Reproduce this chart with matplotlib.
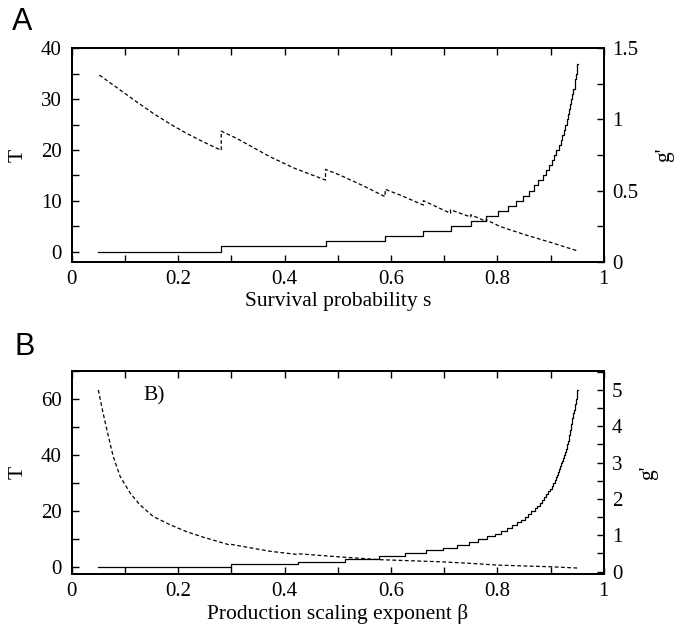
import matplotlib
matplotlib.use("Agg")
import matplotlib.pyplot as plt
from matplotlib.ticker import MultipleLocator, FuncFormatter

plt.rcParams["font.family"] = "Liberation Serif"

# --- panel A: survival probability s ---
# s where T steps up by one (T = 1, 2, ... 37)
A_steps = [0.281, 0.477, 0.589, 0.661, 0.712, 0.750, 0.779, 0.801, 0.820, 0.835,
           0.848, 0.860, 0.869, 0.877, 0.885, 0.891, 0.897, 0.902, 0.907, 0.911,
           0.915, 0.919, 0.922, 0.925, 0.928, 0.931, 0.933, 0.935, 0.937, 0.939,
           0.941, 0.943, 0.945, 0.946, 0.948, 0.949, 0.950]
A_T = [0, 1, 2, 3, 4, 5, 6, 7, 8, 9, 10, 11, 12, 13, 14, 15, 16, 17, 18, 19, 20,
       21, 22, 23, 24, 25, 26, 27, 28, 29, 30, 31, 32, 33, 34, 35, 36, 37]
A_s_start, A_s_end = 0.05, 0.951

A_g_s = [0.052, 0.091, 0.122, 0.153, 0.185, 0.216, 0.247, 0.281, 0.281, 0.31,
         0.3725, 0.42, 0.477, 0.477, 0.504, 0.55, 0.589, 0.589, 0.617, 0.661,
         0.661, 0.712, 0.712, 0.750, 0.750, 0.779, 0.779, 0.805, 0.85, 0.90, 0.95]
A_g = [1.312, 1.207, 1.124, 1.043, 0.968, 0.902, 0.843, 0.783, 0.918, 0.867,
       0.738, 0.655, 0.574, 0.649, 0.609, 0.53, 0.457, 0.509, 0.469, 0.398,
       0.429, 0.34, 0.365, 0.314, 0.33, 0.283, 0.295, 0.248, 0.192, 0.136, 0.077]

# --- panel B: production scaling exponent beta ---
B_steps = [0.300, 0.426, 0.513, 0.578, 0.627, 0.666, 0.698, 0.724, 0.746, 0.764,
           0.781, 0.795, 0.807, 0.818, 0.828, 0.837, 0.845, 0.852, 0.858, 0.864,
           0.870, 0.875, 0.880, 0.884, 0.888, 0.892, 0.895, 0.899, 0.902, 0.905,
           0.908, 0.910, 0.912, 0.914, 0.916, 0.918, 0.920, 0.922, 0.924, 0.926,
           0.927, 0.929, 0.930, 0.931, 0.932, 0.934, 0.935, 0.936, 0.937, 0.938,
           0.939, 0.940, 0.941, 0.942, 0.943, 0.944, 0.945, 0.946, 0.947, 0.948,
           0.949, 0.950, 0.9505]
B_T = [0, 1, 2, 3, 4, 5, 6, 7, 8, 9, 10, 11, 12, 13, 14, 15, 16, 17, 18, 19, 20,
       21, 22, 23, 24, 25, 26, 27, 28, 29, 30, 31, 32, 33, 34, 35, 36, 37, 38, 39,
       40, 41, 42, 43, 44, 45, 46, 47, 48, 49, 50, 51, 52, 53, 54, 55, 56, 57, 58,
       59, 60, 61, 62, 63]
B_b_start, B_b_end = 0.05, 0.951

B_g_b = [0.05, 0.059, 0.069, 0.078, 0.091, 0.11, 0.128, 0.153, 0.185, 0.216,
         0.247, 0.297, 0.300, 0.373, 0.426, 0.428, 0.50, 0.579, 0.692, 0.748,
         0.80, 0.90, 0.95]
B_g = [5.0, 4.36, 3.72, 3.17, 2.62, 2.16, 1.84, 1.52, 1.29, 1.10,
       0.95, 0.735, 0.75, 0.56, 0.47, 0.49, 0.41, 0.33, 0.272, 0.23,
       0.18, 0.135, 0.10]

LW = 0.9
TICK_FS = 15


def style_panel(ax, ax2, ylim, ymaj, ymin, g_lim, g_maj, g_min, xlabel):
    ax.set_xlim(0, 1)
    ax.set_ylim(*ylim)
    ax2.set_ylim(*g_lim)
    ax.xaxis.set_major_locator(MultipleLocator(0.2))
    ax.xaxis.set_minor_locator(MultipleLocator(0.1))
    ax.yaxis.set_major_locator(MultipleLocator(ymaj))
    ax.yaxis.set_minor_locator(MultipleLocator(ymin))
    ax2.yaxis.set_major_locator(MultipleLocator(g_maj))
    ax2.yaxis.set_minor_locator(MultipleLocator(g_min))
    fmt = FuncFormatter(lambda v, p: f"{v:g}")
    ax.xaxis.set_major_formatter(fmt)
    ax.yaxis.set_major_formatter(fmt)
    ax2.yaxis.set_major_formatter(fmt)
    ax.tick_params(axis="x", which="both", direction="in", top=True, bottom=True,
                   length=5, width=1.0, labelsize=TICK_FS, pad=6)
    ax.tick_params(axis="y", which="both", direction="in", left=True, right=False,
                   length=5, width=1.0, labelsize=TICK_FS, pad=7)
    ax2.tick_params(axis="y", which="both", direction="in", left=False, right=True,
                    length=5, width=1.0, labelsize=TICK_FS, pad=6)
    for sp in ax.spines.values():
        sp.set_linewidth(1.3)
    for sp in ax2.spines.values():
        sp.set_linewidth(1.3)
    ax.set_xlabel(xlabel, fontsize=15.5, labelpad=2)
    ax.set_ylabel("T", fontsize=15.5, labelpad=10)
    ax2.set_ylabel("g'", fontsize=15.5, labelpad=12)


fig = plt.figure(figsize=(6.83, 6.34), dpi=100)

# panel A
axA = fig.add_axes([0.105, 0.5872, 0.779, 0.3366])
axA2 = axA.twinx()
axA.step([A_s_start] + A_steps + [A_s_end], A_T + [A_T[-1]], where="post",
         color="black", lw=LW)
axA2.plot(A_g_s, A_g, color="black", lw=LW, ls=(0, (3, 2)))
style_panel(axA, axA2, (-2, 40), 10, 5, (0, 1.5), 0.5, 0.25, "Survival probability s")
fig.text(0.018, 0.965, "A", family="Liberation Sans", fontsize=22, va="center")

# panel B
axB = fig.add_axes([0.105, 0.0946, 0.779, 0.3207])
axB2 = axB.twinx()
axB.step([B_b_start] + B_steps + [B_b_end], B_T + [B_T[-1]], where="post",
         color="black", lw=LW)
axB2.plot(B_g_b, B_g, color="black", lw=LW, ls=(0, (3, 2)))
style_panel(axB, axB2, (-2.4, 70), 20, 10, (-0.065, 5.53), 1, 0.5,
            "Production scaling exponent β")
axB.text(0.135, 61, "B)", fontsize=15.5, va="center")
fig.text(0.021, 0.452, "B", family="Liberation Sans", fontsize=22, va="center")

fig.savefig("out.png", dpi=100)
